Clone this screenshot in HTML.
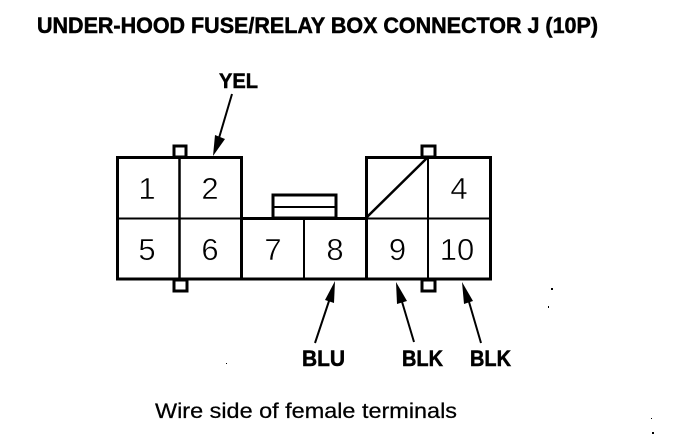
<!DOCTYPE html>
<html>
<head>
<meta charset="utf-8">
<style>
html,body{margin:0;padding:0;background:#fff;}
svg{display:block;}
text{font-family:"Liberation Sans",sans-serif;fill:#000;}
.b{font-weight:bold;stroke:#000;stroke-width:.5px;}
.n{font-size:31px;text-anchor:middle;stroke:#fff;stroke-width:.5px;}
</style>
</head>
<body>
<svg width="688" height="436" viewBox="0 0 688 436" xmlns="http://www.w3.org/2000/svg">
<rect width="688" height="436" fill="#fff"/>
<text class="b" x="37" y="33" font-size="22" textLength="561" lengthAdjust="spacingAndGlyphs">UNDER-HOOD FUSE/RELAY BOX CONNECTOR J (10P)</text>
<text class="b" x="219" y="88" font-size="21" textLength="39" lengthAdjust="spacingAndGlyphs">YEL</text>

<g fill="#fff" stroke="#000" stroke-width="3">
<rect x="174" y="146" width="12" height="11"/>
<rect x="422" y="146" width="13" height="11"/>
<rect x="174" y="280" width="13" height="11"/>
<rect x="422" y="280" width="13" height="11"/>
<rect x="273" y="195" width="63" height="23"/>
</g>
<g fill="none" stroke="#000">
<line x1="273" y1="207" x2="336" y2="207" stroke-width="2"/>
<path d="M117.500 157.500H241.500V279H117.500Z" stroke-width="3"/>
<path d="M366.500 157.500H490.500V279H366.500Z" stroke-width="3"/>
<line x1="241" y1="279" x2="367" y2="279" stroke-width="3"/>
<line x1="241" y1="218.500" x2="367" y2="218.500" stroke-width="3"/>
<line x1="117" y1="218.500" x2="242" y2="218.500" stroke-width="2"/>
<line x1="366" y1="218.500" x2="491" y2="218.500" stroke-width="2"/>
<line x1="179.500" y1="157" x2="179.500" y2="279" stroke-width="2.500"/>
<line x1="304" y1="218" x2="304" y2="279" stroke-width="2"/>
<line x1="428" y1="157" x2="428" y2="279" stroke-width="2"/>
<line x1="367" y1="217" x2="427" y2="158" stroke-width="2.500"/>
<line x1="232" y1="94" x2="219" y2="138" stroke-width="2"/>
<line x1="315" y1="343" x2="331" y2="295" stroke-width="2"/>
<line x1="414" y1="342" x2="400" y2="295" stroke-width="2"/>
<line x1="481" y1="343" x2="467" y2="295" stroke-width="2"/>
</g>
<g fill="#000">
<polygon points="213,156 215,135 225,139"/>
<polygon points="335,281 334,303 325,300"/>
<polygon points="396,282 407,301 397,304"/>
<polygon points="462,282 473,301 464,304"/>
</g>

<text class="n" x="147" y="199">1</text>
<text class="n" x="210" y="199">2</text>
<text class="n" x="459" y="199">4</text>
<text class="n" x="147" y="260">5</text>
<text class="n" x="210" y="260">6</text>
<text class="n" x="273" y="260">7</text>
<text class="n" x="335" y="260">8</text>
<text class="n" x="397.500" y="260">9</text>
<text class="n" x="457" y="260">10</text>

<text class="b" x="302" y="366" font-size="22" textLength="43" lengthAdjust="spacingAndGlyphs">BLU</text>
<text class="b" x="402" y="366" font-size="22" textLength="41" lengthAdjust="spacingAndGlyphs">BLK</text>
<text class="b" x="470" y="366" font-size="22" textLength="41" lengthAdjust="spacingAndGlyphs">BLK</text>
<text x="155" y="418" font-size="21" stroke="#000" stroke-width=".25" textLength="302" lengthAdjust="spacingAndGlyphs">Wire side of female terminals</text>

<g fill="#000">
<rect x="551" y="288" width="2" height="2"/>
<rect x="548" y="306" width="1" height="2"/>
<rect x="226" y="363" width="1" height="1"/>
<rect x="651" y="418" width="1" height="1"/>
<rect x="652" y="432" width="2" height="2"/>
</g>
</svg>
</body>
</html>
